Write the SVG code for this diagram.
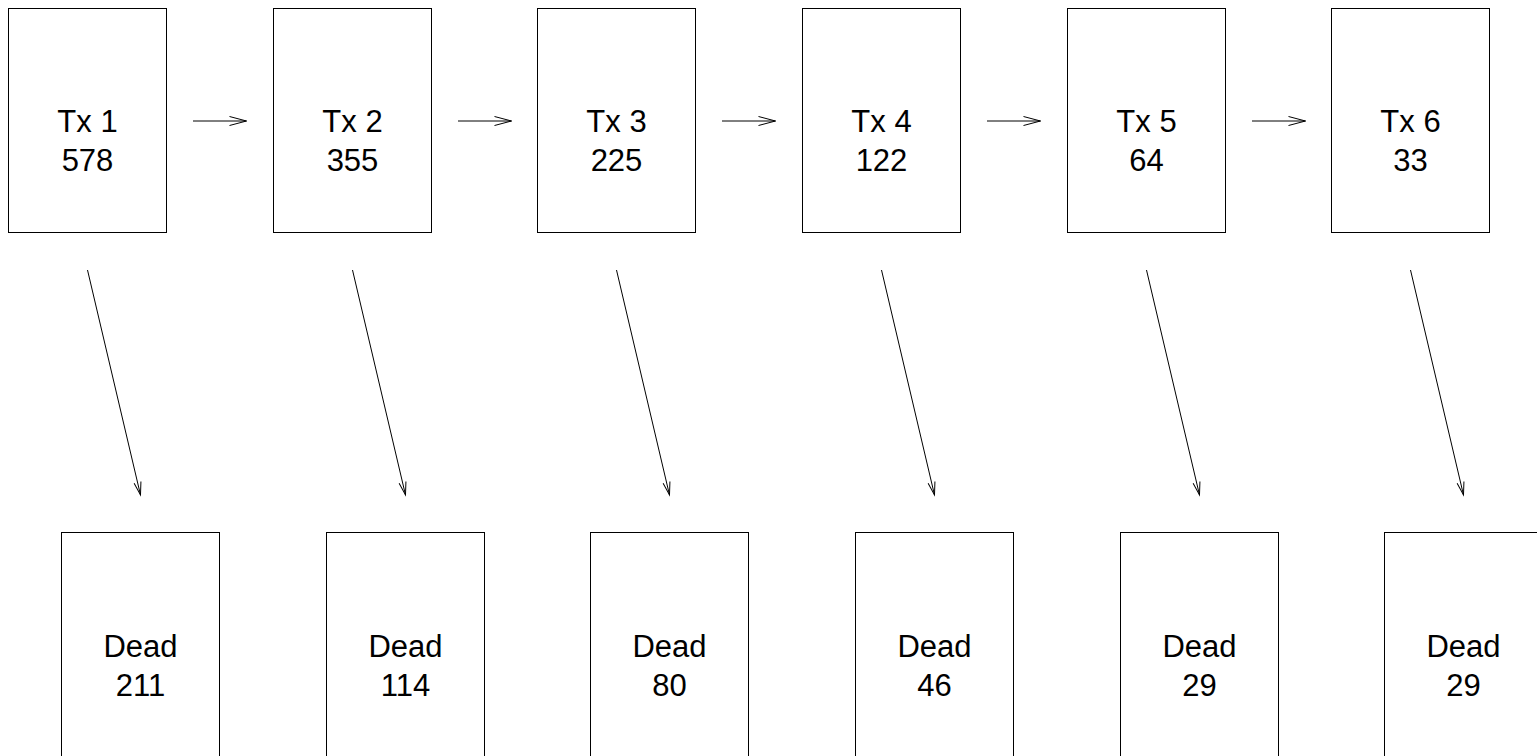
<svg xmlns="http://www.w3.org/2000/svg" width="1537" height="756" viewBox="0 0 1537 756">
<style>
.box{fill:#fff;stroke:#000;stroke-width:1}
.lbl{font-family:"Liberation Sans",Arial,sans-serif;font-size:31px;fill:#000;text-anchor:middle}
.con{stroke:#000;stroke-width:1;fill:none}
</style>
<defs>
<marker id="ah" markerUnits="userSpaceOnUse" markerWidth="20" markerHeight="12" refX="0" refY="0" viewBox="-18 -6 20 12" orient="auto" overflow="visible">
<path d="M-17,-4.5 L0,0 L-17,4.5" fill="none" stroke="#000" stroke-width="1"/>
</marker>
<marker id="ad" markerUnits="userSpaceOnUse" markerWidth="16" markerHeight="10" refX="0" refY="0" viewBox="-14 -5 16 10" orient="auto" overflow="visible">
<path d="M-13,-3.5 L0,0 L-13,3.5" fill="none" stroke="#000" stroke-width="1"/>
</marker>
</defs>
<rect width="1537" height="756" fill="#fff"/>
<g id="connectors">
<line class="con" x1="193" y1="121" x2="246.5" y2="121" marker-end="url(#ah)"/>
<line class="con" x1="458" y1="121" x2="511.5" y2="121" marker-end="url(#ah)"/>
<line class="con" x1="722" y1="121" x2="775.5" y2="121" marker-end="url(#ah)"/>
<line class="con" x1="987" y1="121" x2="1040.5" y2="121" marker-end="url(#ah)"/>
<line class="con" x1="1252" y1="121" x2="1305.5" y2="121" marker-end="url(#ah)"/>
<line class="con" x1="87.5" y1="270" x2="140.5" y2="495" marker-end="url(#ad)"/>
<line class="con" x1="352.5" y1="270" x2="405.5" y2="495" marker-end="url(#ad)"/>
<line class="con" x1="616.5" y1="270" x2="669.5" y2="495" marker-end="url(#ad)"/>
<line class="con" x1="881.5" y1="270" x2="934.5" y2="495" marker-end="url(#ad)"/>
<line class="con" x1="1146.5" y1="270" x2="1199.5" y2="495" marker-end="url(#ad)"/>
<line class="con" x1="1410.5" y1="270" x2="1463.5" y2="495" marker-end="url(#ad)"/>
</g>
<g id="tx1"><rect class="box" x="8.5" y="8.5" width="158" height="224"/><text class="lbl" x="87.5" y="132">Tx 1</text><text class="lbl" x="87.5" y="171">578</text></g>
<g id="tx2"><rect class="box" x="273.5" y="8.5" width="158" height="224"/><text class="lbl" x="352.5" y="132">Tx 2</text><text class="lbl" x="352.5" y="171">355</text></g>
<g id="tx3"><rect class="box" x="537.5" y="8.5" width="158" height="224"/><text class="lbl" x="616.5" y="132">Tx 3</text><text class="lbl" x="616.5" y="171">225</text></g>
<g id="tx4"><rect class="box" x="802.5" y="8.5" width="158" height="224"/><text class="lbl" x="881.5" y="132">Tx 4</text><text class="lbl" x="881.5" y="171">122</text></g>
<g id="tx5"><rect class="box" x="1067.5" y="8.5" width="158" height="224"/><text class="lbl" x="1146.5" y="132">Tx 5</text><text class="lbl" x="1146.5" y="171">64</text></g>
<g id="tx6"><rect class="box" x="1331.5" y="8.5" width="158" height="224"/><text class="lbl" x="1410.5" y="132">Tx 6</text><text class="lbl" x="1410.5" y="171">33</text></g>
<g id="dead1"><rect class="box" x="61.5" y="532.5" width="158" height="250"/><text class="lbl" x="140.5" y="657">Dead</text><text class="lbl" x="140.5" y="696">211</text></g>
<g id="dead2"><rect class="box" x="326.5" y="532.5" width="158" height="250"/><text class="lbl" x="405.5" y="657">Dead</text><text class="lbl" x="405.5" y="696">114</text></g>
<g id="dead3"><rect class="box" x="590.5" y="532.5" width="158" height="250"/><text class="lbl" x="669.5" y="657">Dead</text><text class="lbl" x="669.5" y="696">80</text></g>
<g id="dead4"><rect class="box" x="855.5" y="532.5" width="158" height="250"/><text class="lbl" x="934.5" y="657">Dead</text><text class="lbl" x="934.5" y="696">46</text></g>
<g id="dead5"><rect class="box" x="1120.5" y="532.5" width="158" height="250"/><text class="lbl" x="1199.5" y="657">Dead</text><text class="lbl" x="1199.5" y="696">29</text></g>
<g id="dead6"><rect class="box" x="1384.5" y="532.5" width="158" height="250"/><text class="lbl" x="1463.5" y="657">Dead</text><text class="lbl" x="1463.5" y="696">29</text></g>
</svg>
